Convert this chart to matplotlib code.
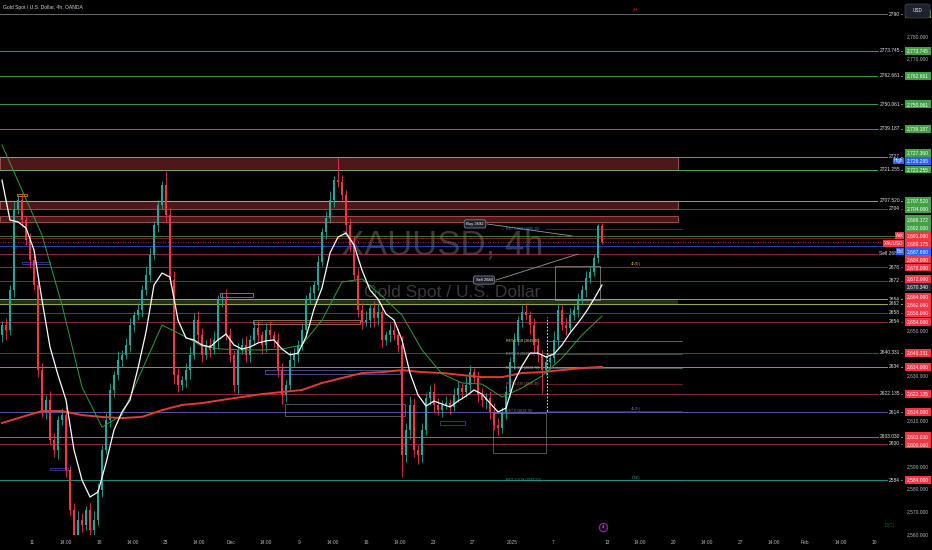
import numpy as np
import matplotlib
matplotlib.use("Agg")
import matplotlib.pyplot as plt
from matplotlib.patches import Rectangle, FancyBboxPatch
from matplotlib.transforms import blended_transform_factory

plt.rcParams['font.family'] = ['Liberation Sans', 'DejaVu Sans']

# ========================
# Candles (one bar ~ 8h)
# ========================
first_open = 2648.0
closes = [
    2652.5, 2650.3, 2668.0, 2703.4, 2707.8, 2698.9, 2690.1, 2681.3, 2670.2, 2632.6,
    2614.9, 2619.4, 2601.7, 2597.3, 2610.5, 2612.7, 2588.4, 2570.7, 2559.7, 2566.3,
    2564.1, 2570.7, 2561.9, 2566.3, 2579.6, 2597.3, 2610.5, 2623.8, 2630.4, 2637.1,
    2639.3, 2643.7, 2652.5, 2656.9, 2659.2, 2668.0, 2674.6, 2683.5, 2696.7, 2705.6,
    2714.4, 2701.2, 2672.4, 2630.4, 2626.0, 2628.2, 2632.6, 2639.3, 2654.7, 2648.1,
    2639.3, 2643.7, 2641.5, 2645.9, 2663.6, 2663.6, 2648.1, 2639.3, 2626.0, 2641.5,
    2643.7, 2639.3, 2645.9, 2651.2, 2648.1, 2643.7, 2650.3, 2648.1, 2645.9, 2632.6,
    2621.6, 2626.0, 2637.1, 2639.3, 2643.7, 2650.3, 2663.6, 2666.7, 2670.2, 2680.4,
    2693.6, 2699.8, 2707.8, 2716.6, 2715.7, 2710.0, 2696.7, 2687.9, 2674.6, 2659.2,
    2653.9, 2654.7, 2660.0, 2655.6, 2658.3, 2645.9, 2648.1, 2650.3, 2648.1, 2643.7,
    2595.1, 2606.1, 2617.2, 2597.3, 2595.1, 2606.1, 2620.3, 2622.9, 2617.2, 2614.9,
    2617.2, 2618.0, 2616.3, 2621.6, 2624.7, 2622.9, 2626.0, 2631.7, 2629.1, 2621.6,
    2619.4, 2620.3, 2614.1, 2608.3, 2607.0, 2614.1, 2622.9, 2636.2, 2645.9, 2654.7,
    2658.3, 2656.9, 2652.5, 2643.7, 2639.3, 2632.6, 2636.2, 2637.9, 2645.9, 2659.2,
    2652.5, 2651.2, 2656.9, 2659.2, 2663.6, 2668.0, 2673.3, 2676.0, 2682.1, 2696.3,
    2689.2,
]
upper_wick = [
    2, 3, 2, 4, 2.2, 3, 2, 3, 2, 4,
    3, 2, 4, 3, 2, 3, 4, 2, 3, 4,
    3, 2, 3, 4, 3, 2, 3, 3, 2, 4,
    2, 3, 3, 2, 3, 2, 4, 3, 2, 2,
    2, 6, 3, 4, 3, 2, 3, 4, 3, 4,
    3, 2, 3, 4, 2, 3, 5, 3, 2, 3,
    3, 4, 2, 3, 3, 2, 3, 4, 2, 3,
    3, 2, 4, 3, 2, 3, 2, 3, 2, 3,
    2, 3, 4, 2, 9.7, 3, 2, 3, 4, 3,
    3, 4, 2, 3, 4, 3, 2, 3, 4, 3,
    4, 3, 4, 3, 2, 3, 2, 3, 4, 3,
    2, 3, 2, 3, 3, 2, 4, 3, 2, 3,
    3, 2, 3, 4, 3, 2, 3, 2, 3, 2,
    3, 4, 2, 3, 3, 2, 3, 2, 4, 3,
    2, 3, 3, 2, 3, 2, 3, 2, 2, 1,
    1.4,
]
lower_wick = [
    3, 4.4, 2, 3, 2, 3, 2, 3, 2, 3,
    3, 4, 2, 3, 4, 2, 3, 2, 2, 3,
    3, 2, 4, 3, 2, 3, 2, 3, 3, 2,
    3, 2, 3, 3, 2, 3, 2, 3, 2, 3,
    2, 3, 2, 4, 3, 2, 3, 4, 2, 3,
    3, 2, 3, 2, 4, 3, 2, 3, 3, 4,
    2, 3, 3, 2, 3, 4, 3, 2, 3, 3,
    4, 3, 2, 3, 3, 2, 3, 2, 3, 2,
    2, 3, 2, 3, 2, 3, 4, 3, 2, 3,
    3, 2, 3, 4, 3, 3, 2, 3, 2, 3,
    9.8, 3, 4, 3, 4, 3, 2, 3, 3, 2,
    3, 2, 3, 2, 3, 3, 2, 3, 2, 3,
    3, 4, 3, 2, 3.1, 2, 3, 2, 3, 2,
    3, 2, 4, 3, 3, 10, 2, 3, 2, 3,
    2, 3, 2, 2, 3, 2, 3, 2, 2, 2,
    1,
]

# moving averages: white every 2 bars, green / red every 5 bars
white_ma = [
    2716.6, 2698.9, 2698.1, 2695.4, 2685.7, 2663.6, 2642.8, 2630.4, 2619.4, 2597.3,
    2584.0, 2576.5, 2578.7, 2591.5, 2606.1, 2614.1, 2619.4, 2633.5, 2649.4, 2670.2,
    2675.5, 2673.7, 2654.7, 2646.8, 2645.9, 2643.7, 2642.8, 2645.9, 2648.5, 2643.7,
    2641.9, 2642.8, 2644.6, 2645.5, 2645.9, 2641.9, 2639.3, 2640.1, 2647.2, 2659.6,
    2668.9, 2684.4, 2691.4, 2693.2, 2687.9, 2676.8, 2668.0, 2664.0, 2657.4, 2654.7,
    2645.9, 2631.3, 2621.6, 2616.7, 2618.9, 2617.6, 2616.3, 2618.9, 2621.1, 2623.8,
    2622.0, 2618.0, 2614.1, 2615.8, 2627.3, 2634.4, 2640.1, 2640.1, 2638.4, 2639.7,
    2643.7, 2649.0, 2653.4, 2658.3, 2664.0, 2670.2,
]
green_ma = [
    2732.1, 2712.2, 2692.3, 2661.4, 2625.1, 2607.4, 2612.7, 2632.6, 2652.5, 2648.1,
    2643.2, 2641.9, 2641.5, 2641.5, 2641.9, 2643.7, 2654.7, 2671.5, 2672.9, 2665.3,
    2656.9, 2641.5, 2630.9, 2626.9, 2626.4, 2620.7, 2624.7, 2630.0, 2637.9, 2648.1,
    2656.5,
]
red_ma = [
    2609.2, 2611.9, 2614.5, 2614.5, 2612.7, 2611.9, 2611.4, 2611.9, 2614.9, 2617.2,
    2618.0, 2619.4, 2620.7, 2622.0, 2622.9, 2623.8, 2626.9, 2629.1, 2631.3, 2631.7,
    2632.6, 2631.7, 2631.3, 2630.4, 2629.5, 2629.5, 2631.3, 2631.7, 2632.6, 2633.5,
    2634.0,
]

# ========================
# Horizontal levels
# ========================
level_prices = [2790, 2773.745, 2762.661, 2750.061, 2739.187, 2727, 2721.255, 2707.52, 2704,
                2684, 2678, 2672, 2664, 2662, 2658, 2654, 2640.331, 2634, 2622.135, 2614,
                2603.03, 2600, 2584]
level_names = ["2790", "2773.745", "2762.661", "2750.061", "2739.187", "2727", "2721.255",
               "2707.520", "2704", "Sell 2684", "2678", "2672", "2664", "2662", "2658", "2654",
               "2640.331", "2634", "2622.135", "2614", "2603.030", "2600", "2584"]
level_colors = ["#787b86", "#4caf50", "#4caf50", "#4caf50", "#4caf50", "#9e9e9e", "#66bb6a",
                "#a5b8a5", "#a04040", "#a3304a", "#a3304a", "#a3304a", "#9ccc65", "#c0ca33",
                "#a3304a", "#a3304a", "#a3304a", "#b8a850", "#a3304a", "#5c6bc0", "#8a8a8a",
                "#a3304a", "#26a69a"]

zone_lo = [2721.255, 2704.0, 2698.172]
zone_hi = [2727.0, 2707.52, 2700.6]
zone_end = 169

# price-axis labels
axis_prices = [2790, 2773.745, 2762.661, 2750.061, 2739.187, 2727.36, 2726.295, 2721.255,
               2707.52, 2704, 2698.172, 2692, 2691.09, 2689.175, 2687.66, 2684, 2678, 2672,
               2670.34, 2664, 2662, 2658, 2654, 2640.331, 2634, 2622.135, 2614, 2603.03, 2600, 2584]
axis_kinds = ["g"] * 6 + ["b"] + ["g"] * 5 + ["r", "r", "b"] + ["r"] * 3 + ["k"] + ["r"] * 11
axis_tags = {6: "High", 12: "Ask", 13: "XAUUSD", 14: "Bid"}
axis_ticks = list(range(2560, 2800, 10))

fib_ratios = ["1.618", "0.618", "0.5", "0.382", "0.236", "0", "-0.618"]
fib_prices = [2695.1, 2645.4, 2639.5, 2633.7, 2626.4, 2614.7, 2583.9]
fib_colors = ["#2196f3", "#ffeb3b", "#9e9e9e", "#b0b0b0", "#ef5350", "#787b86", "#26a69a"]

# x-axis (bar positions of the date labels)
date_pos = [7.5, 16, 24.25, 32.75, 41, 49.25, 57.25, 66, 74.25, 82.75, 91, 99.5, 107.75,
            117.75, 127.5, 137.75, 151.25, 159.5, 168, 176.25, 184.75, 193, 200.75, 209.75, 218]
date_labels = ["11", "14:00", "18", "14:00", "25", "14:00", "Dec", "14:00", "9", "14:00", "16",
               "14:00", "23", "27", "2025", "7", "13", "14:00", "20", "14:00", "27", "14:00",
               "Feb", "14:00", "10"]

# drawn boxes: x0, x1, low, high, colour
boxes = [
    (54.5, 62.75, 2664.9, 2666.7, "#ff9800"),
    (62.75, 89.5, 2653.0, 2654.7, "#c8a060"),
    (65.75, 99.5, 2630.9, 2632.6, "#5c6bc0"),
    (70.75, 100.75, 2612.3, 2617.6, "#787b86"),
    (109.5, 115.75, 2608.3, 2610.1, "#3f51b5"),
    (122.75, 136, 2596.0, 2613.6, "#787b86"),
    (138.25, 149.5, 2663.6, 2678.6, "#9e9e9e"),
    (3.75, 6.25, 2709.6, 2710.4, "#ff9800"),
    (5, 12, 2679.5, 2680.4, "#3f51b5"),
    (12, 16.5, 2588.4, 2589.3, "#3f51b5"),
]

# ========================
# Figure
# ========================
fig = plt.figure(figsize=(9.32, 5.5), dpi=100, facecolor="black")
ax = fig.add_axes([0, 15 / 550, 903 / 932, 535 / 550])
ax.set_facecolor("black")
ax.set_xlim(-0.5, 225.25)
ax.set_ylim(2559.7, 2796.2)
for s in ax.spines.values():
    s.set_visible(False)
ax.set_xticks([])
ax.set_yticks([])

lab = blended_transform_factory(ax.transAxes, ax.transData)
bottom_tr = blended_transform_factory(ax.transData, fig.transFigure)

# watermark
ax.text(110, 2688, "XAUUSD, 4h", color="#3a3a3a", fontsize=25, ha="center", va="center", zorder=0.5)
ax.text(112.5, 2666.7, "Gold Spot / U.S. Dollar", color="#3a3a3a", fontsize=12.5,
        ha="center", va="center", zorder=0.5)

# zones
for lo, hi in zip(zone_lo, zone_hi):
    ax.add_patch(Rectangle((-0.5, lo), zone_end + 0.5, hi - lo, fc="#5a1a1e", ec="#c0605a",
                           lw=0.6, alpha=0.9, zorder=2))
ax.add_patch(Rectangle((-0.5, 2662), zone_end + 0.5, 2, fc="#556b2f", ec="none", alpha=0.45, zorder=2))

# levels
for p, name, col in zip(level_prices, level_names, level_colors):
    ax.axhline(p, color=col, lw=0.7, alpha=0.85, zorder=3)
    ax.text(900 / 903, p, name, transform=lab, ha="right", va="center", fontsize=3.5,
            color="#e0e3eb", zorder=8, clip_on=False,
            bbox=dict(boxstyle="square,pad=0.2", fc="black", ec="none"))

# bid / ask / last / buy
ax.axhline(2692, color="#4caf50", lw=0.6, alpha=0.8, zorder=3)
ax.axhline(2691.09, color="#f23645", lw=0.5, alpha=0.7, zorder=3)
ax.axhline(2687.66, color="#2962ff", lw=0.6, alpha=0.8, zorder=3)
ax.axhline(2689.175, color="#f23645", lw=0.6, ls=(0, (1, 2)), zorder=3)

# drawn boxes
for x0, x1, lo, hi, col in boxes:
    ax.add_patch(Rectangle((x0, lo), x1 - x0, hi - lo, fc="none", ec=col, lw=0.6, alpha=0.8, zorder=3))

# fib retracement labels
for r, p, col in zip(fib_ratios, fib_prices, fib_colors):
    ax.plot([136, 170], [p, p], color=col, lw=0.5, alpha=0.6, zorder=3)
    ax.text(126, p, f"RET {r} ({p:.2f})", color=col, fontsize=2.6, va="center", zorder=8)
ax.vlines(136.25, 2614.5, 2656, colors="white", lw=0.6, linestyles=(0, (2, 2)), zorder=6)

# candles
n = len(closes)
idx = np.arange(n)
c = np.array(closes)
o = np.array([first_open] + closes[:-1])
top = np.maximum(o, c)
bot = np.minimum(o, c)
highs = top + np.array(upper_wick)
lows = bot - np.array(lower_wick)
cols = np.where(c >= o, "#26a69a", "#f23645")
ax.vlines(idx, lows, highs, colors=cols, lw=0.6, zorder=4)
ax.bar(idx, np.maximum(top - bot, 0.3), bottom=bot, width=0.62, color=cols, lw=0, zorder=5)

# moving averages
ax.plot(np.arange(0, n, 5), red_ma, color="#e53935", lw=1.4, zorder=6)
ax.plot(np.arange(0, n, 5), green_ma, color="#2e9e3e", lw=0.7, zorder=6)
ax.plot(np.arange(0, n, 2), white_ma, color="white", lw=0.9, zorder=7)

# buy / sell callouts
for (tx, ty, ex, ey, t) in [(118.25, 2697.2, 142.5, 2691.9, "Buy 2692"),
                            (120.5, 2672.4, 144, 2683.9, "Sell 2684")]:
    ax.plot([tx + 3, ex], [ty, ey], color="#9598a1", lw=0.6, zorder=8)
    ax.text(tx, ty, t, color="white", fontsize=3, ha="center", va="center", zorder=9,
            bbox=dict(boxstyle="round,pad=0.5", fc="#1e222d", ec="#9598a1", lw=0.5))

# timeframe tags
ax.text(158.25, 2791.8, "2H", color="#f23645", fontsize=3, ha="center", va="center", zorder=8)
ax.text(158.5, 2679.5, "4h(E)", color="#ff9800", fontsize=3, ha="center", va="center", zorder=8)
ax.text(158.5, 2615.4, "4h(E)", color="#5c6bc0", fontsize=3, ha="center", va="center", zorder=8)
ax.text(158.5, 2584.9, "D(E)", color="#26a69a", fontsize=3, ha="center", va="center", zorder=8)
ax.text(222, 2564.1, "D(C)", color="#1b5e20", fontsize=3.5, ha="center", va="center", zorder=8)
ax.plot([150.25], [2563.2], marker="o", ms=6, mfc="#1a0a24", mec="#9c27b0", mew=0.7, zorder=9, clip_on=False)
ax.text(150.25, 2563.2, "4", color="#ce93d8", fontsize=3, ha="center", va="center", zorder=10)


# price-axis labels, spread so that they do not overlap (TradingView style)
def spread(prices, gap):
    order = sorted(range(len(prices)), key=lambda k: -prices[k])
    groups = [[k] for k in order]

    def place(g):
        m = np.mean([prices[k] for k in g])
        t = m + gap * (len(g) - 1) / 2
        return [t - gap * j for j in range(len(g))]

    changed = True
    while changed:
        changed = False
        for j in range(len(groups) - 1):
            if place(groups[j])[-1] - place(groups[j + 1])[0] < gap:
                groups[j] = groups[j] + groups[j + 1]
                del groups[j + 1]
                changed = True
                break
    pos = {}
    for g in groups:
        for k, v in zip(g, place(g)):
            pos[k] = v
    return [pos[k] for k in range(len(prices))]


box_h = 3.5
shown = spread(axis_prices, 3.54)
fills = {"g": "#43a047", "r": "#f23645", "b": "#2962ff", "k": "#2a2e39"}

for t in axis_ticks:
    if min(abs(t - s) for s in shown) < 3.0:
        continue
    ax.text(918 / 903, t, f"{t:,.3f}", transform=lab, ha="center", va="center", fontsize=3.5,
            color="#b2b5be", clip_on=False, zorder=9)

for k, (p, kind) in enumerate(zip(axis_prices, axis_kinds)):
    y = shown[k]
    ax.add_patch(Rectangle((905 / 903, y - box_h / 2), 26 / 903, box_h, transform=lab,
                           fc=fills[kind], ec="none", clip_on=False, zorder=10))
    ax.text(918 / 903, y, f"{p:,.3f}", transform=lab, ha="center", va="center", fontsize=3.5,
            color="white", clip_on=False, zorder=11)
    if k in axis_tags:
        ax.text(903.5 / 903, y, axis_tags[k], transform=lab, ha="right", va="center", fontsize=3.3,
                color="white", clip_on=False, zorder=11,
                bbox=dict(boxstyle="square,pad=0.2", fc=fills[kind], ec="none"))

# date axis
for xp, t in zip(date_pos, date_labels):
    ax.text(xp, 1 - 543 / 550, t, transform=bottom_tr, ha="center", va="center", fontsize=3.5,
            color="#b2b5be", clip_on=False)

# header and currency button
fig.text(3 / 932, 1 - 7 / 550, "Gold Spot / U.S. Dollar, 4h, OANDA", fontsize=3.6,
         color="#d1d4dc", va="center", ha="left")
fig.patches.append(FancyBboxPatch((905 / 932, 1 - 18 / 550), 25 / 932, 14 / 550,
                                  boxstyle="round,pad=0,rounding_size=0.004",
                                  transform=fig.transFigure, fc="#1e222d", ec="#434651", lw=0.5,
                                  zorder=20))
fig.text(917.5 / 932, 1 - 11 / 550, "USD", fontsize=3.3, color="white", ha="center", va="center",
         zorder=21)

fig.savefig("out.png", dpi=100, facecolor="black")
